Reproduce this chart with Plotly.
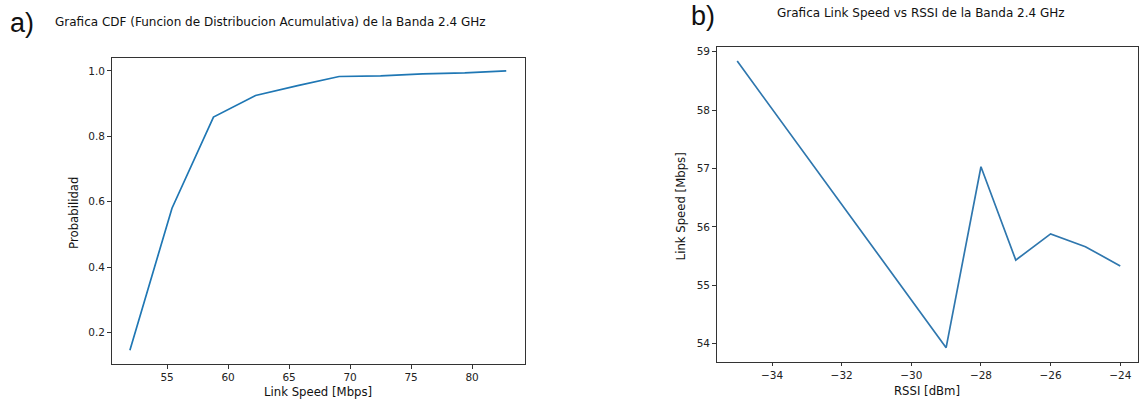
import plotly.graph_objects as go

# Panel a) CDF data
cdf_speed = [51.95, 55.4, 58.8, 62.25, 65.7, 69.1, 72.5, 75.95, 79.4, 82.8]
cdf_prob = [0.145, 0.580, 0.859, 0.925, 0.955, 0.983, 0.985, 0.991, 0.994, 1.0]

# Panel b) Link speed vs RSSI
rssi = [-35, -29, -28, -27, -26, -25, -24]
link_speed = [58.84, 53.93, 57.03, 55.43, 55.88, 55.66, 55.33]

W, H = 1139, 402
font = "DejaVu Sans"

fig = go.Figure()
fig.add_trace(go.Scatter(x=cdf_speed, y=cdf_prob, mode="lines",
                         line=dict(color="#1f77b4", width=1.7),
                         xaxis="x", yaxis="y", showlegend=False))
fig.add_trace(go.Scatter(x=rssi, y=link_speed, mode="lines",
                         line=dict(color="#2f77ae", width=1.7),
                         xaxis="x2", yaxis="y2", showlegend=False))

axis_common = dict(showgrid=False, zeroline=False, showline=True, mirror=True,
                   linecolor="#333333", linewidth=1, ticks="outside", ticklen=3.5,
                   tickcolor="#333333", tickwidth=1,
                   tickfont=dict(family=font, size=10.5, color="#222222"))

fig.update_layout(
    width=W, height=H,
    margin=dict(l=0, r=0, t=0, b=0),
    paper_bgcolor="white", plot_bgcolor="white",
    xaxis=dict(domain=[111.7 / W, 525 / W], range=[50.45, 84.3],
               tickvals=[55, 60, 65, 70, 75, 80], **axis_common),
    yaxis=dict(domain=[1 - 364 / H, 1 - 56 / H], range=[0.1026, 1.0405],
               tickvals=[0.2, 0.4, 0.6, 0.8, 1.0], ticktext=["0.2", "0.4", "0.6", "0.8", "1.0"],
               **axis_common),
    xaxis2=dict(domain=[717.3 / W, 1.0], range=[-35.59, -23.49], anchor="y2",
                tickvals=[-34, -32, -30, -28, -26, -24],
                ticktext=["\u221234", "\u221232", "\u221230", "\u221228", "\u221226", "\u221224"],
                **axis_common),
    yaxis2=dict(domain=[1 - 361.7 / H, 1 - 45.7 / H], range=[53.686, 59.073], anchor="x2",
                tickvals=[54, 55, 56, 57, 58, 59], **axis_common),
)

def txt(x, y, s, size, fam=font, angle=0, xanchor="center"):
    fig.add_annotation(x=x / W, y=1 - y / H, xref="paper", yref="paper", text=s,
                       showarrow=False, xanchor=xanchor, yanchor="middle", textangle=angle,
                       font=dict(family=fam, size=size, color="#111111"))

txt(8, 21, "a)", 27, fam="Liberation Sans", xanchor="left")
txt(690, 14, "b)", 27, fam="Liberation Sans", xanchor="left")
txt(271, 20, "Grafica CDF (Funcion de Distribucion Acumulativa) de la Banda 2.4 GHz", 12)
txt(921.7, 11, "Grafica Link Speed vs RSSI de la Banda 2.4 GHz", 12)
txt(318, 392, "Link Speed [Mbps]", 11.7)
txt(74, 212, "Probabilidad", 11.7, angle=-90)
txt(928, 391, "RSSI [dBm]", 11.7)
txt(682, 205, "Link Speed [Mbps]", 11.7, angle=-90)

fig.write_html("out.html", config={"displayModeBar": False},
               post_script="document.body.style.margin='0';document.body.style.overflow='hidden';")
